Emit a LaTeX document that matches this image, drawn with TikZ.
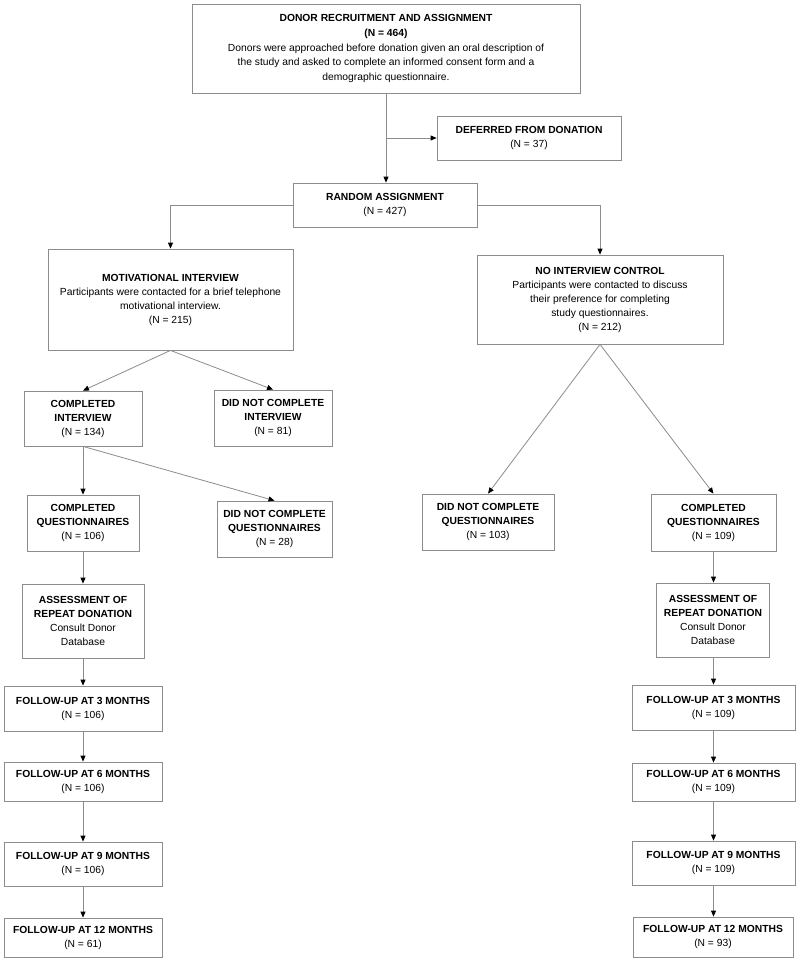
\documentclass[tikz,border=0pt]{standalone}
\usepackage{fontspec}
\setmainfont{Liberation Sans}
\usetikzlibrary{arrows.meta,positioning,calc}
\definecolor{linegray}{gray}{0.55}

\begin{document}
\begin{tikzpicture}[
  x=1pt, y=1pt,
  arr/.style={-{Triangle[length=6pt,width=5pt,color=black]},draw=linegray,line width=0.8pt},
  box/.style={draw=linegray,line width=0.8pt,align=center,inner sep=1pt,
    font=\fontsize{10.3}{14}\selectfont}
]
  \fill[white] (0,0) rectangle (800,-962);
  \useasboundingbox (0,0) rectangle (800,-962);

  % top of the flow
  \node[box,minimum width=388pt,minimum height=89pt,font=\fontsize{10.3}{14.6}\selectfont] (recruit) at (386,-48.5)
    {\textbf{DONOR RECRUITMENT AND ASSIGNMENT}\\ \textbf{(N = 464)}\\
     Donors were approached before donation given an oral description of\\
     the study and asked to complete an informed consent form and a\\
     demographic questionnaire.};
  \node[box,minimum width=184pt,minimum height=44pt] (defer) at (529,-138)
    {\textbf{DEFERRED FROM DONATION}\\ (N = 37)};
  \node[box,minimum width=184pt,minimum height=44pt] (random) at (385,-205)
    {\textbf{RANDOM ASSIGNMENT}\\ (N = 427)};

  % the two arms
  \node[box,minimum width=245pt,minimum height=101pt] (mi) at (170.5,-299.5)
    {\textbf{MOTIVATIONAL INTERVIEW}\\ Participants were contacted for a brief telephone\\
     motivational interview.\\ (N = 215)};
  \node[box,minimum width=246pt,minimum height=89pt] (nic) at (600,-299.5)
    {\textbf{NO INTERVIEW CONTROL}\\ Participants were contacted to discuss\\
     their preference for completing\\ study questionnaires.\\ (N = 212)};

  % interview arm
  \node[box,minimum width=118pt,minimum height=55pt] (compInt) at (83,-418.5)
    {\textbf{COMPLETED}\\ \textbf{INTERVIEW}\\ (N = 134)};
  \node[box,minimum width=118pt,minimum height=56pt] (notInt) at (273,-418)
    {\textbf{DID NOT COMPLETE}\\ \textbf{INTERVIEW}\\ (N = 81)};
  \node[box,minimum width=112pt,minimum height=56pt] (compQL) at (83,-523)
    {\textbf{COMPLETED}\\ \textbf{QUESTIONNAIRES}\\ (N = 106)};
  \node[box,minimum width=115pt,minimum height=56pt] (notQL) at (274.5,-529)
    {\textbf{DID NOT COMPLETE}\\ \textbf{QUESTIONNAIRES}\\ (N = 28)};
  \node[box,minimum width=122pt,minimum height=74pt] (assessL) at (83,-621)
    {\textbf{ASSESSMENT OF}\\ \textbf{REPEAT DONATION}\\ Consult Donor\\ Database};
  \node[box,minimum width=158pt,minimum height=45pt] (fuThreeL) at (83,-708.5)
    {\textbf{FOLLOW-UP AT 3 MONTHS}\\ (N = 106)};
  \node[box,minimum width=158pt,minimum height=39pt] (fuSixL) at (83,-781.5)
    {\textbf{FOLLOW-UP AT 6 MONTHS}\\ (N = 106)};
  \node[box,minimum width=158pt,minimum height=44pt] (fuNineL) at (83,-864)
    {\textbf{FOLLOW-UP AT 9 MONTHS}\\ (N = 106)};
  \node[box,minimum width=158pt,minimum height=39pt] (fuTwelveL) at (83,-937.5)
    {\textbf{FOLLOW-UP AT 12 MONTHS}\\ (N = 61)};

  % control arm
  \node[box,minimum width=132pt,minimum height=56pt] (notQR) at (488,-522)
    {\textbf{DID NOT COMPLETE}\\ \textbf{QUESTIONNAIRES}\\ (N = 103)};
  \node[box,minimum width=125pt,minimum height=57pt] (compQR) at (713.5,-522.5)
    {\textbf{COMPLETED}\\ \textbf{QUESTIONNAIRES}\\ (N = 109)};
  \node[box,minimum width=113pt,minimum height=74pt] (assessR) at (713,-620)
    {\textbf{ASSESSMENT OF}\\ \textbf{REPEAT DONATION}\\ Consult Donor\\ Database};
  \node[box,minimum width=163pt,minimum height=45pt] (fuThreeR) at (713.5,-707.5)
    {\textbf{FOLLOW-UP AT 3 MONTHS}\\ (N = 109)};
  \node[box,minimum width=163pt,minimum height=38pt] (fuSixR) at (713.5,-782)
    {\textbf{FOLLOW-UP AT 6 MONTHS}\\ (N = 109)};
  \node[box,minimum width=163pt,minimum height=44pt] (fuNineR) at (713.5,-863)
    {\textbf{FOLLOW-UP AT 9 MONTHS}\\ (N = 109)};
  \node[box,minimum width=160pt,minimum height=40pt] (fuTwelveR) at (713,-937)
    {\textbf{FOLLOW-UP AT 12 MONTHS}\\ (N = 93)};

  % connectors
  \coordinate (split) at (recruit.south |- defer.west);
  \draw[arr] (recruit.south) -- (recruit.south |- random.north);
  \draw[arr] (split) -- (defer.west);
  \draw[arr] (random.west) -| (mi.north);
  \draw[arr] (random.east) -| (nic.north);

  \draw[arr] (mi.south) -- (compInt.north);
  \draw[arr] (mi.south) -- (notInt.north);
  \draw[arr] (compInt.south) -- (compQL.north);
  \draw[arr] (compInt.south) -- (notQL.north);
  \draw[arr] (compQL.south) -- (assessL.north);
  \draw[arr] (assessL.south) -- (fuThreeL.north);
  \draw[arr] (fuThreeL.south) -- (fuSixL.north);
  \draw[arr] (fuSixL.south) -- (fuNineL.north);
  \draw[arr] (fuNineL.south) -- (fuTwelveL.north);

  \draw[arr] (nic.south) -- (notQR.north);
  \draw[arr] (nic.south) -- (compQR.north);
  \draw[arr] (compQR.south) -- (compQR.south |- assessR.north);
  \draw[arr] (compQR.south |- assessR.south) -- (compQR.south |- fuThreeR.north);
  \draw[arr] (compQR.south |- fuThreeR.south) -- (compQR.south |- fuSixR.north);
  \draw[arr] (compQR.south |- fuSixR.south) -- (compQR.south |- fuNineR.north);
  \draw[arr] (compQR.south |- fuNineR.south) -- (compQR.south |- fuTwelveR.north);
\end{tikzpicture}
\end{document}
